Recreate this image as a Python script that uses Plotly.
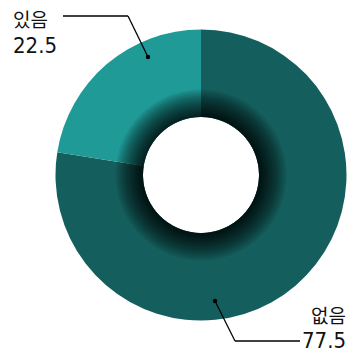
import plotly.graph_objects as go

labels = ["없음", "있음"]
values = [77.5, 22.5]
colors = ["#145f5d", "#1f9a97"]

W, H = 349, 353
cx, cy, R = 201, 175, 145.5
r_in = 58

def dom(r):
    return dict(x=[(cx - r) / W, (cx + r) / W], y=[1 - (cy + r) / H, 1 - (cy - r) / H])

fig = go.Figure()
fig.add_trace(go.Pie(
    labels=labels, values=values, sort=False, direction="clockwise", rotation=0,
    hole=r_in / R, marker=dict(colors=colors, line=dict(width=0)),
    textinfo="none", hoverinfo="label+value", showlegend=False, domain=dom(R),
))

# inner shadow: stacked translucent rings
N = 16
for i in range(N):
    t = (i + 1) / N
    r = r_in + 0.5 + 27 * t ** 1.2
    fig.add_trace(go.Pie(
        values=[1], sort=False, hole=r_in / r,
        marker=dict(colors=["rgba(0,0,0,0.083)"], line=dict(width=0)),
        textinfo="none", hoverinfo="skip", showlegend=False, domain=dom(r),
    ))

def px(x, y):
    return x / W, 1 - y / H

shapes = []
pts1 = [(63, 16), (128, 16), (148, 57)]
pts2 = [(300, 341), (235, 341), (215, 301)]
for pts in (pts1, pts2):
    for a, b in zip(pts[:-1], pts[1:]):
        x0, y0 = px(*a); x1, y1 = px(*b)
        shapes.append(dict(type="line", xref="paper", yref="paper", x0=x0, y0=y0, x1=x1, y1=y1,
                           line=dict(color="black", width=1.3)))
    dx, dy = px(*pts[-1])
    shapes.append(dict(type="circle", xref="paper", yref="paper",
                       x0=dx - 2.2 / W, x1=dx + 2.2 / W, y0=dy - 2.2 / H, y1=dy + 2.2 / H,
                       fillcolor="black", line=dict(width=0)))

kfont = dict(family="Noto Sans CJK KR, sans-serif", size=19, color="#111")
nfont = dict(family="Liberation Sans Narrow, DejaVu Sans Condensed, Roboto, sans-serif", size=22, color="#111")

def ann(x, y, text, font, xanchor):
    ax, ay = px(x, y)
    return dict(x=ax, y=ay, xref="paper", yref="paper", xanchor=xanchor, yanchor="middle",
                text=text, showarrow=False, font=font)

annotations = [
    ann(11, 19, labels[1], kfont, "left"),
    ann(11, 45, str(values[1]), nfont, "left"),
    ann(348, 314, labels[0], kfont, "right"),
    ann(348, 340, str(values[0]), nfont, "right"),
]

fig.update_layout(width=W, height=H, margin=dict(l=0, r=0, t=0, b=0),
                  paper_bgcolor="white", plot_bgcolor="white",
                  shapes=shapes, annotations=annotations)
fig.write_html(
    "out.html",
    config={"displayModeBar": False},
    post_script=(
        "document.body.style.margin='0';"
        "document.body.style.overflow='hidden';"
        "document.documentElement.style.overflow='hidden';"
    ),
)
